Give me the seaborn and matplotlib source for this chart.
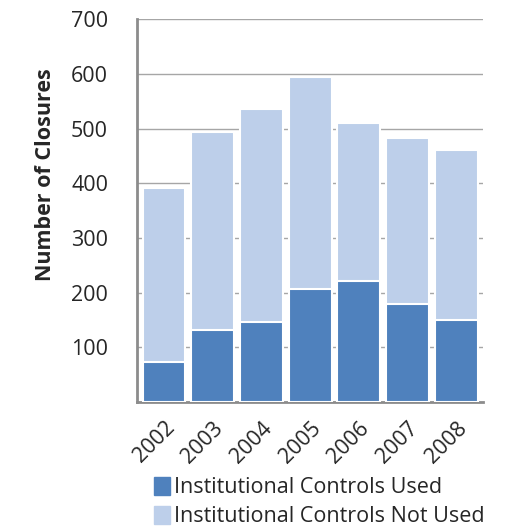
import pandas as pd
import matplotlib.pyplot as plt
import seaborn as sns
from matplotlib.patches import Patch

# data
years = ['2002', '2003', '2004', '2005', '2006', '2007', '2008']
used = [74, 132, 147, 207, 221, 180, 151]
not_used = [317, 362, 389, 387, 290, 302, 310]

df = pd.DataFrame({'year': years, 'used': used, 'not_used': not_used})
df['total'] = df['used'] + df['not_used']

dark = '#4F81BD'
light = '#BDCFEA'

sns.set_style('white')
plt.rcParams['font.family'] = ['Open Sans', 'DejaVu Sans']

fig = plt.figure(figsize=(5.1, 5.32), dpi=100)
ax = fig.add_axes([0.269, 0.244, 0.678, 0.72])

# stacked bars: total first, used on top of it
sns.barplot(data=df, x='year', y='total', color=light, width=0.88,
            edgecolor='white', linewidth=1.5, saturation=1, ax=ax, zorder=2)
sns.barplot(data=df, x='year', y='used', color=dark, width=0.88,
            edgecolor='white', linewidth=1.5, saturation=1, ax=ax, zorder=3)

ax.set_ylim(0, 700)
ax.set_yticks(range(100, 701, 100))
ax.yaxis.grid(True, color='#A6A6A6', linewidth=1, zorder=0)
ax.set_axisbelow(True)
ax.set_xlim(-0.55, 6.55)

for s in ['top', 'right']:
    ax.spines[s].set_visible(False)
ax.spines['left'].set_color('#8C8C8C')
ax.spines['left'].set_linewidth(2)
ax.spines['bottom'].set_color('#8C8C8C')
ax.spines['bottom'].set_linewidth(2)

ax.tick_params(axis='y', length=0, labelsize=15.5, pad=21)
ax.tick_params(axis='x', length=0, labelsize=15.5, pad=11)
plt.setp(ax.get_xticklabels(), rotation=45, ha='right', rotation_mode='anchor')

ax.set_xlabel('')
ax.set_ylabel('Number of Closures', fontsize=15.5, fontweight='bold')
ax.yaxis.set_label_coords(-0.235, 0.593)

handles = [Patch(color=dark, label='Institutional Controls Used'),
           Patch(color=light, label='Institutional Controls Not Used')]
fig.legend(handles=handles, loc='upper left', bbox_to_anchor=(0.285, 0.12),
           frameon=False, fontsize=15.5, handlelength=0.75, handleheight=0.9,
           handletextpad=0.2, labelspacing=0.35, borderaxespad=0)

fig.savefig('out.png', dpi=100)
